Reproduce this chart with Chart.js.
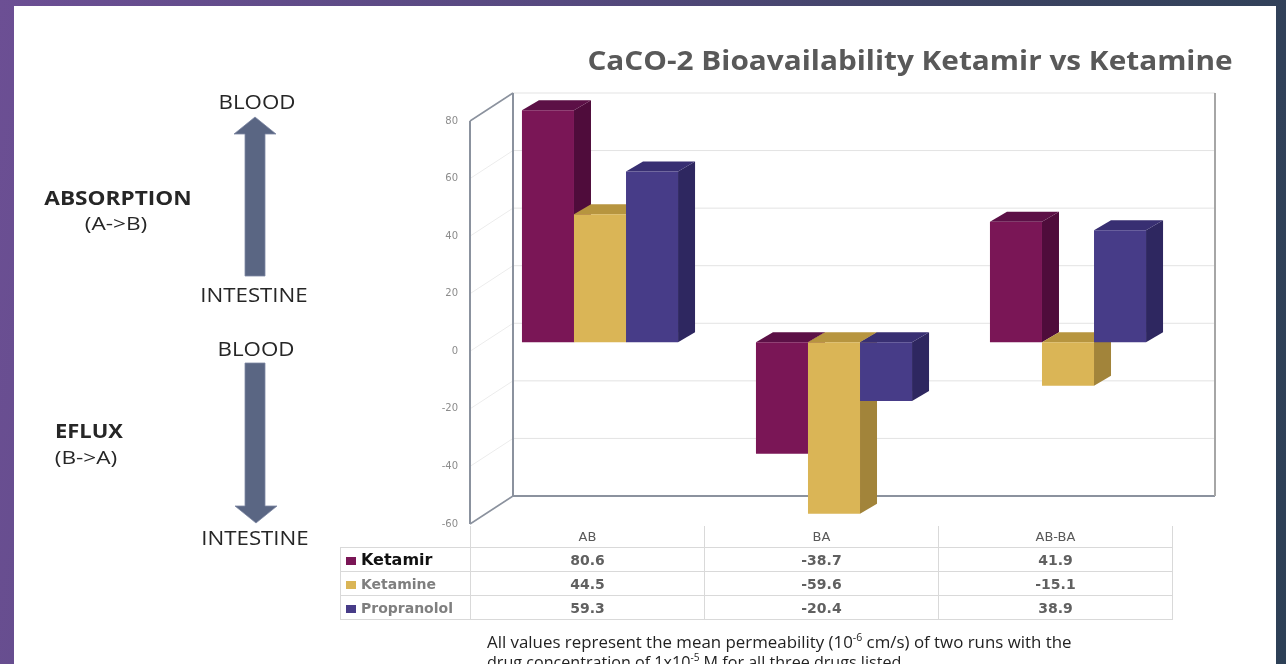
<!DOCTYPE html>
<html>
<head>
<meta charset="utf-8">
<script src="https://cdn.jsdelivr.net/npm/chart.js@4.4.1/dist/chart.umd.min.js"></script>
<style>
html, body { margin: 0; padding: 0; }
body {
  width: 1286px; height: 664px; overflow: hidden; position: relative;
  background: linear-gradient(100deg, #6c4f94 0%, #56497f 40%, #3b4361 72%, #2d4056 100%);
  font-family: 'Open Sans', sans-serif;
}
#panel { position: absolute; left: 14px; top: 6px; width: 1262px; height: 658px; background: #fff; }
#chart { position: absolute; left: 0; top: 0; }
.c, .l { position: absolute; white-space: nowrap; line-height: 1; color: #262626; }
.c { transform: translate(-50%, -50%); }
.l { transform-origin: left center; transform: translateY(-50%); }
.side { font-size: 20px; }
.bold { font-weight: bold; }
#title { font-size: 26px; font-weight: bold; color: #595959; }
.note { font-size: 16px; color: #222; }
.note sup { font-size: 10px; }
#arrows { position: absolute; left: 0; top: 0; }
#tbl { position: absolute; left: 340px; top: 526px; border-collapse: collapse; table-layout: fixed; width: 832px; }
#tbl th, #tbl td { border: 1px solid #d9d9d9; padding: 0; text-align: center; font-family: 'DejaVu Sans', sans-serif; }
#tbl th { height: 21px; border-top: none; font-size: 13px; font-weight: normal; color: #595959; }
#tbl th.blank { border-left: none; }
#tbl td { height: 23px; font-size: 14px; font-weight: bold; color: #606060; }
#tbl td.name { text-align: left; padding-left: 5px; color: #7f7f7f; }
#tbl td.main { color: #111; font-size: 16px; }
.key { display: inline-block; width: 10px; height: 8px; margin-right: 5px; }
</style>
</head>
<body>
<div id="panel"></div>
<canvas id="chart" width="1286" height="664"></canvas>

<svg id="arrows" width="340" height="664">
  <polygon points="255,117 276,134 265,134 265,276 245,276 245,134 234,134" fill="#5a6683" stroke="#7d88a3" stroke-width="0.8"/>
  <polygon points="245,363 265,363 265,506 277,506 256,523 235,506 245,506" fill="#5a6683" stroke="#7d88a3" stroke-width="0.8"/>
</svg>

<div class="c side" style="left:257px;top:102px" data-w="77">BLOOD</div>
<div class="c side" style="left:254px;top:295px" data-w="108">INTESTINE</div>
<div class="c side" style="left:256px;top:349px" data-w="77">BLOOD</div>
<div class="c side" style="left:255px;top:538px" data-w="108">INTESTINE</div>
<div class="c side bold" style="left:118px;top:198px" data-w="147">ABSORPTION</div>
<div class="c side" style="left:116px;top:223px;font-size:19px" data-w="62">(A-&gt;B)</div>
<div class="c side bold" style="left:89px;top:431px" data-w="68">EFLUX</div>
<div class="c side" style="left:86px;top:457px;font-size:19px" data-w="62">(B-&gt;A)</div>

<div id="title" class="c" style="left:910px;top:60px" data-w="646">CaCO-2 Bioavailability Ketamir vs Ketamine</div>

<table id="tbl">
  <colgroup><col style="width:130px"><col style="width:234px"><col style="width:234px"><col style="width:234px"></colgroup>
  <tbody id="tbody"></tbody>
</table>

<div class="l note" style="left:487px;top:641px" data-w="585">All values represent the mean permeability (10<sup>-6</sup> cm/s) of two runs with the</div>
<div class="l note" style="left:487px;top:661px" data-w="419">drug concentration of 1x10<sup>-5</sup> M for all three drugs listed.</div>

<script>
const categories = ['AB', 'BA', 'AB-BA'];
const seriesNames = ['Ketamir', 'Ketamine', 'Propranolol'];
const ketamirValues = [80.6, -38.7, 41.9];
const ketamineValues = [44.5, -59.6, -15.1];
const propranololValues = [59.3, -20.4, 38.9];
const yTickValues = [-60, -40, -20, 0, 20, 40, 60, 80];

const seriesValues = [ketamirValues, ketamineValues, propranololValues];
const frontColors = ['#7a1656', '#dab556', '#473c88'];
const sideColors = ['#4f0c3b', '#a2843a', '#2e2760'];
const topColors = ['#5c1046', '#b7953f', '#382f72'];

// 3d look: walls pushed back, bars sit a bit behind the front plane
const wallDepth = { dx: 43, dy: -28 };
const barShift = { dx: 13, dy: -9 };
const barDepth = { dx: 17, dy: -10 };

function line(ctx, x1, y1, x2, y2, color, w) {
  ctx.beginPath();
  ctx.moveTo(x1, y1);
  ctx.lineTo(x2, y2);
  ctx.strokeStyle = color;
  ctx.lineWidth = w;
  ctx.stroke();
}

function poly(ctx, pts, color) {
  ctx.beginPath();
  ctx.moveTo(pts[0][0], pts[0][1]);
  for (let k = 1; k < pts.length; k++) ctx.lineTo(pts[k][0], pts[k][1]);
  ctx.closePath();
  ctx.fillStyle = color;
  ctx.fill();
}

const box3d = {
  id: 'box3d',
  beforeDatasetsDraw(chart) {
    const ctx = chart.ctx, a = chart.chartArea, y = chart.scales.y;
    const bx = wallDepth.dx, by = wallDepth.dy;
    ctx.save();
    y.ticks.forEach(t => {
      const p = y.getPixelForValue(t.value);
      line(ctx, a.left, p, a.left + bx, p + by, '#ececec', 1);
      line(ctx, a.left + bx, p + by, a.right + bx, p + by, '#e3e3e3', 1);
    });
    line(ctx, a.left + bx, a.top + by, a.left + bx, a.bottom + by, '#8b929e', 2);
    line(ctx, a.left + bx, a.bottom + by, a.right + bx, a.bottom + by, '#8b929e', 2);
    line(ctx, a.right + bx, a.top + by, a.right + bx, a.bottom + by, '#a6a6a6', 2);
    line(ctx, a.left, a.top, a.left, a.bottom, '#8b929e', 2);
    line(ctx, a.left, a.top, a.left + bx, a.top + by, '#8b929e', 1.5);
    line(ctx, a.left, a.bottom, a.left + bx, a.bottom + by, '#8b929e', 1.5);

    // side and top faces first, the library draws the fronts over them
    const boxes = [];
    chart.data.datasets.forEach((ds, i) => {
      chart.getDatasetMeta(i).data.forEach(el => {
        boxes.push({
          i: i,
          l: el.x - el.width / 2 + barShift.dx,
          r: el.x + el.width / 2 + barShift.dx,
          u: Math.min(el.y, el.base) + barShift.dy,
          d: Math.max(el.y, el.base) + barShift.dy
        });
      });
    });
    boxes.sort((p, q) => p.l - q.l);
    const dx = barDepth.dx, dy = barDepth.dy;
    boxes.forEach(b => {
      poly(ctx, [[b.r, b.u], [b.r + dx, b.u + dy], [b.r + dx, b.d + dy], [b.r, b.d]], sideColors[b.i]);
      poly(ctx, [[b.l, b.u], [b.l + dx, b.u + dy], [b.r + dx, b.u + dy], [b.r, b.u]], topColors[b.i]);
    });
    ctx.restore();
    ctx.save();
    ctx.translate(barShift.dx, barShift.dy);
  },
  afterDatasetsDraw(chart) {
    chart.ctx.restore();
  }
};

new Chart(document.getElementById('chart'), {
  type: 'bar',
  data: {
    labels: categories,
    datasets: seriesNames.map((name, i) => ({
      label: name,
      data: seriesValues[i],
      backgroundColor: frontColors[i],
      borderWidth: 0,
      categoryPercentage: 0.667,
      barPercentage: 1,
      clip: false
    }))
  },
  options: {
    responsive: false,
    animation: false,
    devicePixelRatio: 1,
    layout: { padding: { left: 430, right: 114, top: 121, bottom: 140 } },
    plugins: {
      legend: { display: false },
      tooltip: { enabled: false }
    },
    scales: {
      x: { display: false },
      y: {
        min: -60,
        max: 80,
        afterFit: s => { s.width = 40; },
        afterBuildTicks: s => { s.ticks = yTickValues.map(v => ({ value: v })); },
        grid: { display: false, drawTicks: false },
        border: { display: false },
        ticks: { padding: 12, color: '#8c8c8c', font: { family: 'DejaVu Sans', size: 10 } }
      }
    }
  },
  plugins: [box3d]
});

// data table under the chart
let rows = '<tr><th class="blank"></th>' + categories.map(c => '<th>' + c + '</th>').join('') + '</tr>';
seriesNames.forEach((name, i) => {
  rows += '<tr><td class="name' + (i === 0 ? ' main' : '') + '"><span class="key" style="background:' + frontColors[i] + '"></span>' + name + '</td>' +
    seriesValues[i].map(v => '<td>' + v.toFixed(1) + '</td>').join('') + '</tr>';
});
document.getElementById('tbody').innerHTML = rows;

// the slide text is stretched sideways, fit each line to its width
document.querySelectorAll('[data-w]').forEach(el => {
  const k = Number(el.dataset.w) / el.offsetWidth;
  el.style.transform = (el.classList.contains('c') ? 'translate(-50%, -50%) ' : 'translateY(-50%) ') + 'scaleX(' + k.toFixed(3) + ')';
});
</script>
</body>
</html>
